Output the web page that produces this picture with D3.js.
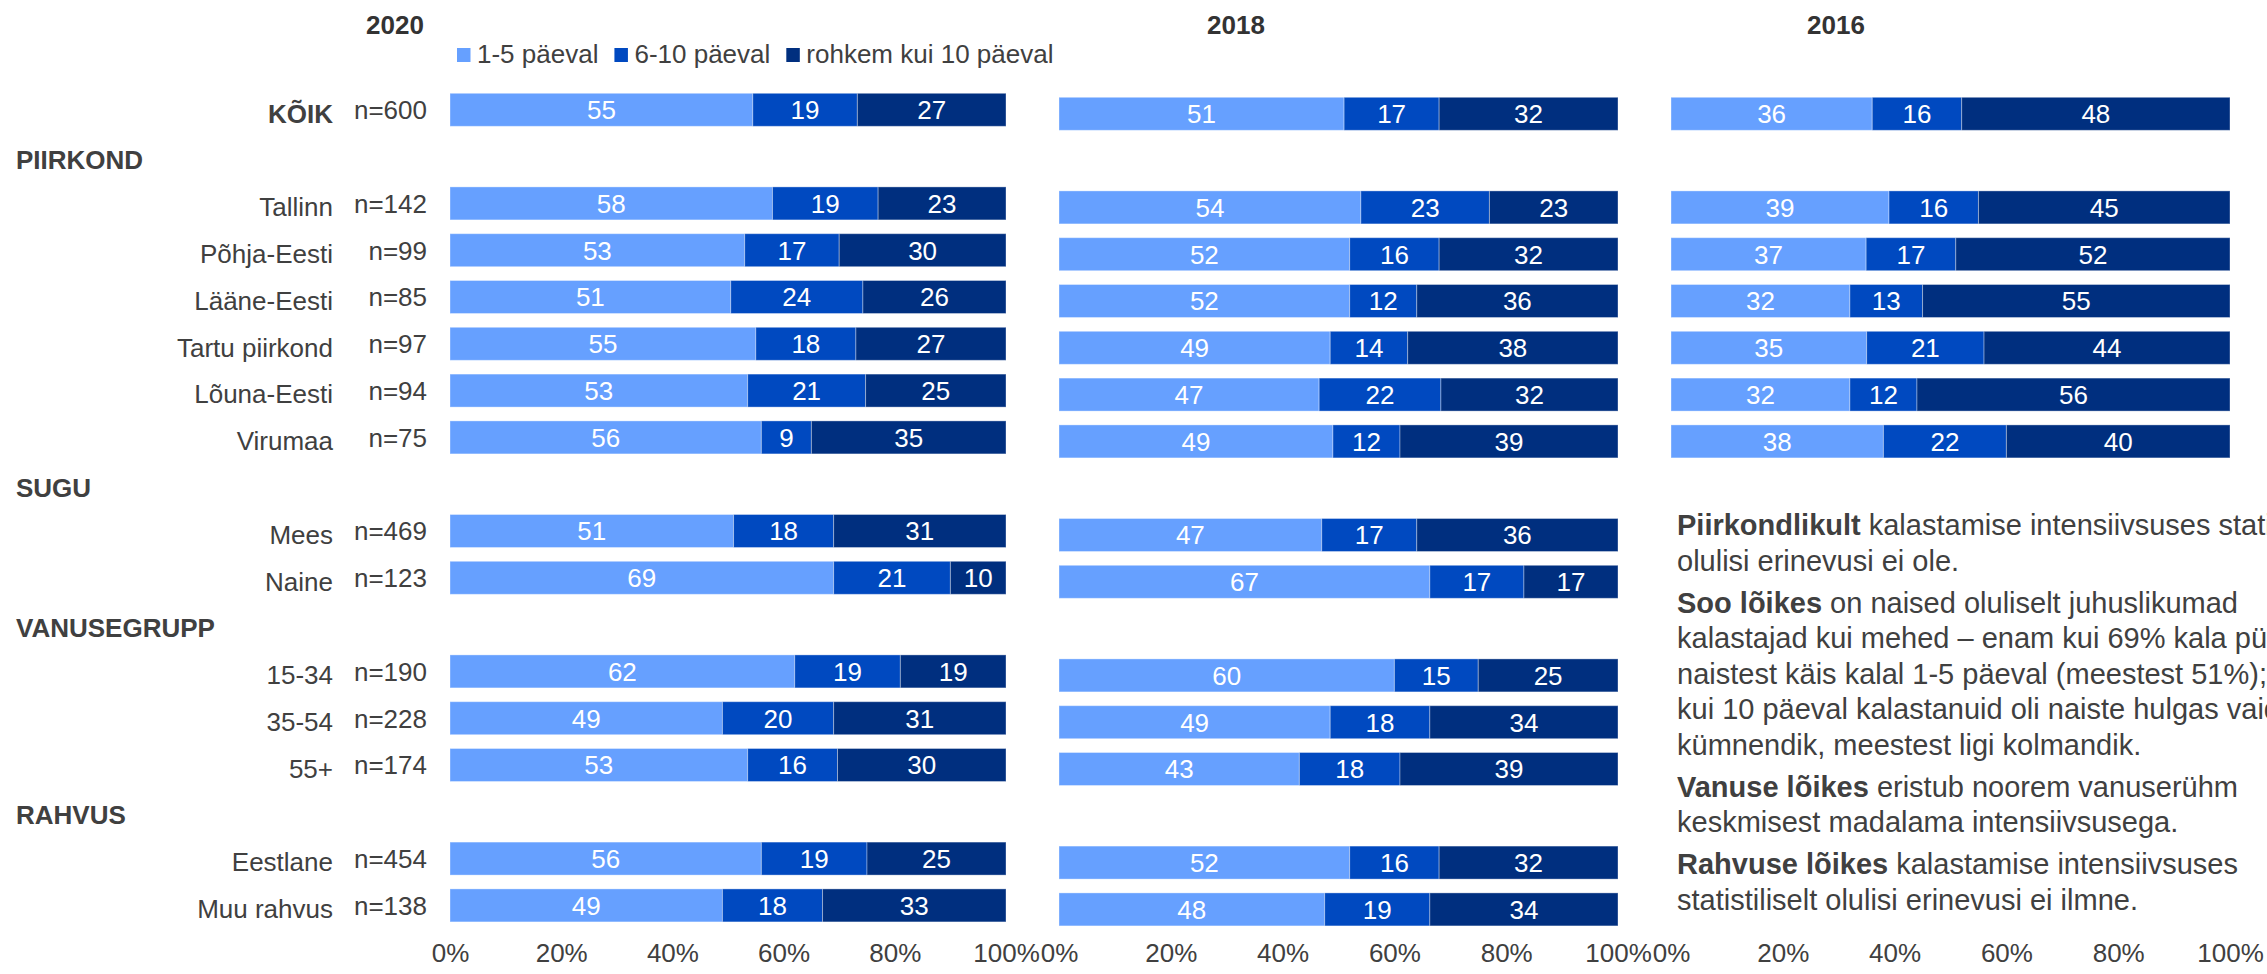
<!DOCTYPE html>
<html>
<head>
<meta charset="utf-8">
<script src="https://cdn.jsdelivr.net/npm/d3@7"></script>
<style>
  body { margin: 0; background: #fff; }
  svg { display: block; font-family: "Liberation Sans", Arial, sans-serif; }
</style>
</head>
<body>
<div id="chart"></div>
<script>
let width = 2267, height = 974;

// Data
const years = ["2020", "2018", "2016"];
const seriesNames = ["1-5 päeval", "6-10 päeval", "rohkem kui 10 päeval"];
const rowLabels = ["KÕIK", "PIIRKOND", "Tallinn", "Põhja-Eesti", "Lääne-Eesti", "Tartu piirkond",
  "Lõuna-Eesti", "Virumaa", "SUGU", "Mees", "Naine", "VANUSEGRUPP", "15-34", "35-54", "55+",
  "RAHVUS", "Eestlane", "Muu rahvus"];
const sectionRows = ["PIIRKOND", "SUGU", "VANUSEGRUPP", "RAHVUS"];
const sampleSizes = [600, null, 142, 99, 85, 97, 94, 75, null, 469, 123, null, 190, 228, 174, null, 454, 138];
const values2020 = [[55,19,27], null, [58,19,23], [53,17,30], [51,24,26], [55,18,27], [53,21,25], [56,9,35],
  null, [51,18,31], [69,21,10], null, [62,19,19], [49,20,31], [53,16,30], null, [56,19,25], [49,18,33]];
const values2018 = [[51,17,32], null, [54,23,23], [52,16,32], [52,12,36], [49,14,38], [47,22,32], [49,12,39],
  null, [47,17,36], [67,17,17], null, [60,15,25], [49,18,34], [43,18,39], null, [52,16,32], [48,19,34]];
const values2016 = [[36,16,48], null, [39,16,45], [37,17,52], [32,13,55], [35,21,44], [32,12,56], [38,22,40],
  null, null, null, null, null, null, null, null, null, null];
const tickValues = [0, 0.2, 0.4, 0.6, 0.8, 1];

const notes = [
  [["Piirkondlikult", " kalastamise intensiivsuses statistiliselt"], ["", "olulisi erinevusi ei ole."]],
  [["Soo lõikes", " on naised oluliselt juhuslikumad"], ["", "kalastajad kui mehed – enam kui 69% kala püüdnud"],
   ["", "naistest käis kalal 1-5 päeval (meestest 51%); rohkem"], ["", "kui 10 päeval kalastanuid oli naiste hulgas vaid"],
   ["", "kümnendik, meestest ligi kolmandik."]],
  [["Vanuse lõikes", " eristub noorem vanuserühm"], ["", "keskmisest madalama intensiivsusega."]],
  [["Rahvuse lõikes", " kalastamise intensiivsuses"], ["", "statistiliselt olulisi erinevusi ei ilmne."]]
];

const allValues = [values2020, values2018, values2016];
const colors = ["#66a0ff", "#0049c0", "#002f7f"];
const textColor = "#404040";

let svg = d3.select("#chart").append("svg")
  .attr("width", width)
  .attr("height", height);

// Layout
const panels = [[450, 1006], [1059, 1618], [1671, 2230]];
const panelDy = [0, 4, 4];
const headerX = [395, 1236, 1836];

let y = d3.scaleBand()
  .domain(d3.range(rowLabels.length))
  .range([86.4, 928.8])
  .paddingInner(0.295)
  .paddingOuter(0.1475);

let color = d3.scaleOrdinal(seriesNames, colors);

// Row labels
let labels = svg.append("g").attr("font-size", 26).attr("fill", textColor);
rowLabels.forEach((lab, i) => {
  let cy = y(i) + y.bandwidth() / 2;
  if (sectionRows.includes(lab)) {
    labels.append("text").attr("x", 16).attr("y", cy + 12.6)
      .attr("font-weight", "bold").text(lab);
  } else {
    labels.append("text").attr("x", 333).attr("y", cy + 12.7)
      .attr("text-anchor", "end")
      .attr("font-weight", i == 0 ? "bold" : "normal")
      .text(lab);
    labels.append("text").attr("x", 427).attr("y", cy + 9.3)
      .attr("text-anchor", "end")
      .text("n=" + sampleSizes[i]);
  }
});

// Panels
panels.forEach((p, k) => {
  let x = d3.scaleLinear().domain([0, 1]).range(p);
  let g = svg.append("g").attr("transform", "translate(0," + panelDy[k] + ")");

  // year header
  svg.append("text")
    .attr("x", headerX[k]).attr("y", 33.5)
    .attr("text-anchor", "middle")
    .attr("font-size", 26).attr("font-weight", "bold")
    .attr("fill", "#333")
    .text(years[k]);

  // stacked (normalised to row total)
  let rows = [];
  allValues[k].forEach((v, i) => {
    if (!v) return;
    let total = d3.sum(v), acc = 0;
    v.forEach((val, j) => {
      rows.push({ row: i, series: seriesNames[j], value: val, x0: acc / total, x1: (acc + val) / total });
      acc += val;
    });
  });

  g.selectAll("rect")
    .data(rows)
    .enter().append("rect")
    .attr("x", d => x(d.x0))
    .attr("width", d => x(d.x1) - x(d.x0))
    .attr("y", d => y(d.row))
    .attr("height", y.bandwidth())
    .attr("fill", d => color(d.series))
    .attr("stroke", "rgba(255,255,255,0.35)")
    .attr("stroke-width", 1);

  g.selectAll("text.val")
    .data(rows)
    .enter().append("text")
    .attr("class", "val")
    .attr("x", d => (x(d.x0) + x(d.x1)) / 2)
    .attr("y", d => y(d.row) + y.bandwidth() / 2 + 9.3)
    .attr("text-anchor", "middle")
    .attr("font-size", 26)
    .attr("fill", "#fff")
    .text(d => d.value);

  // axis
  let axis = svg.append("g")
    .attr("transform", "translate(0,936)")
    .call(d3.axisBottom(x).tickValues(tickValues).tickFormat(d3.format(".0%")).tickSize(0).tickPadding(0));
  axis.select(".domain").remove();
  axis.selectAll("text")
    .attr("font-size", 26)
    .attr("font-family", "Liberation Sans, Arial, sans-serif")
    .attr("fill", textColor)
    .attr("dy", "1em");
});

// Legend
let legend = svg.append("g").attr("font-size", 26).attr("fill", textColor);
let lx = 457;
seriesNames.forEach((s, i) => {
  legend.append("rect").attr("x", lx).attr("y", 48).attr("width", 13.5).attr("height", 14)
    .attr("fill", color(s));
  let t = legend.append("text").attr("x", lx + 20).attr("y", 62.7).text(s);
  lx = lx + 20 + t.node().getComputedTextLength() + 16;
});

// Commentary
let note = svg.append("g").attr("font-size", 29).attr("fill", textColor);
let by = 535;
notes.forEach(par => {
  par.forEach(line => {
    let t = note.append("text").attr("x", 1677).attr("y", by);
    if (line[0]) t.append("tspan").attr("font-weight", "bold").text(line[0]);
    t.append("tspan").text(line[1]);
    by += 35.5;
  });
  by += 6.5;
});
</script>
</body>
</html>
